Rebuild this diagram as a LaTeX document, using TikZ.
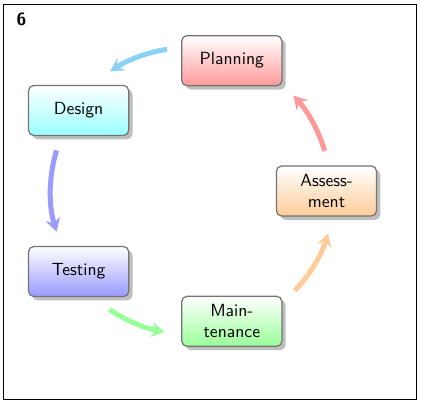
\documentclass[tikz,border=0pt]{standalone}
\usetikzlibrary{shadows,arrows.meta,calc}
\definecolor{arrA}{HTML}{8AD3F5}
\definecolor{arrB}{HTML}{9A9AFF}
\definecolor{arrC}{HTML}{99FF99}
\definecolor{arrD}{HTML}{FFCC99}
\definecolor{arrE}{HTML}{FF9999}
\begin{document}
\begin{tikzpicture}[x=0.5682pt,y=0.5682pt,
  module/.style={draw=black!55,line width=0.7pt,rounded corners=3pt,
    minimum width=2cm,minimum height=1cm,align=center,
    font=\sffamily,text=black,drop shadow,top color=white},
  cyc/.style={line width=2.85pt,-{Stealth[length=7.5pt,width=8.5pt,inset=2.6pt]}}]
\useasboundingbox (0,0) rectangle (421,404);
\draw[line width=0.85pt] (3.5,4.5) rectangle (416.5,399.5);
\node[font=\sffamily\bfseries] (num) at (21.5,385) {6};
\coordinate (O) at (189.5,213);
\node[module,bottom color=red!40] (plan) at ($(O)+(72:137)$) {Planning};
\node[module,bottom color=cyan!40] (des) at ($(O)+(144:137)$) {Design};
\node[module,bottom color=blue!40] (test) at ($(O)+(216:137)$) {Testing};
\node[module,bottom color=green!40] (main) at ($(O)+(288:137)$) {Main-\\tenance};
\node[module,bottom color=orange!40] (ass) at ($(O)+(0:137)$) {Assess-\\ment};
\coordinate (s1) at ($(O)+(99:143.5)$);
\coordinate (s2) at ($(O)+(163:139)$);
\coordinate (s3) at ($(O)+(236:143)$);
\coordinate (s4) at ($(O)+(316.6:145)$);
\coordinate (s5) at ($(O)+(16.5:141)$);
\draw[cyc,arrA] (s1) arc[start angle=99,end angle=123.5,radius=143.5];
\draw[cyc,arrB] (s2) arc[start angle=163,end angle=197,radius=139];
\draw[cyc,arrC] (s3) arc[start angle=236,end angle=260,radius=143];
\draw[cyc,arrD] (s4) arc[start angle=316.6,end angle=343,radius=145];
\draw[cyc,arrE] (s5) arc[start angle=16.5,end angle=42.6,radius=141];
\end{tikzpicture}
\end{document}
